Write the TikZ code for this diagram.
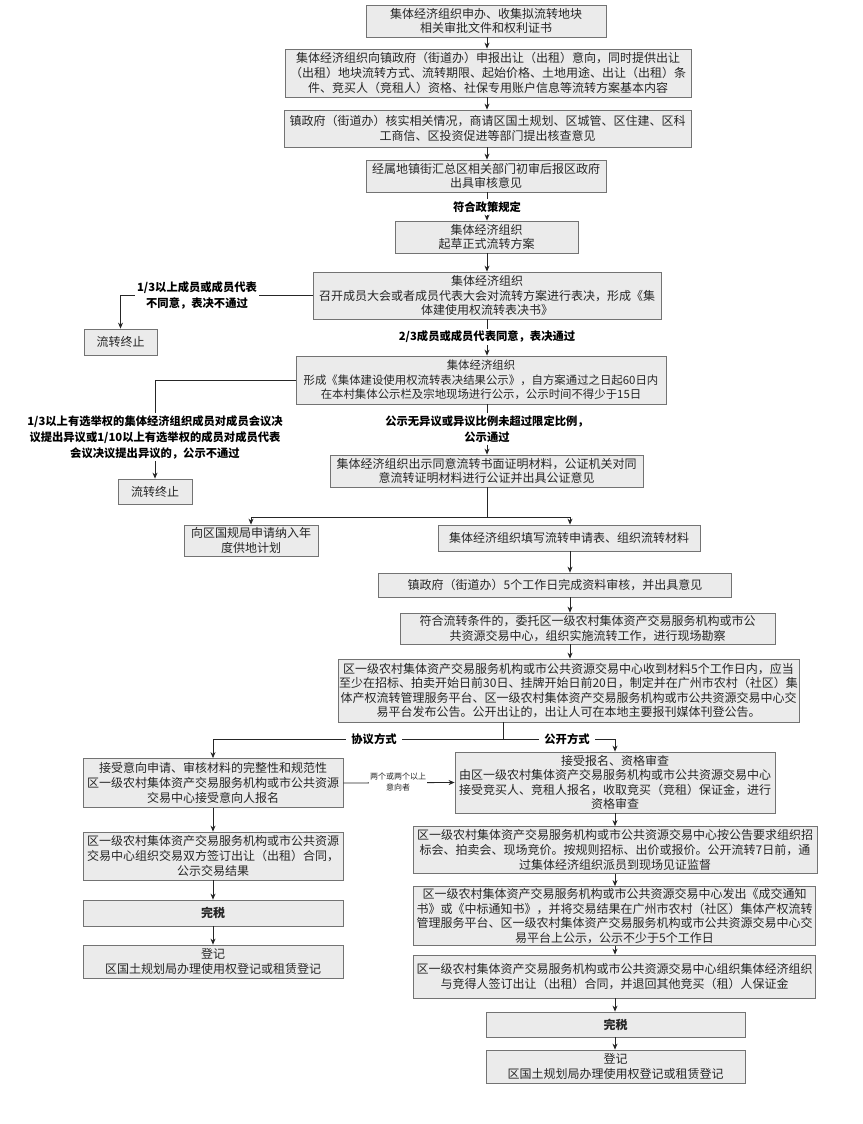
\documentclass[tikz,border=0pt]{standalone}
\usepackage{fontspec}
\setmainfont{Noto Sans CJK SC}
\usetikzlibrary{arrows.meta}
\tikzset{
  box/.style={draw=black!55, line width=0.8pt, fill=black!8, inner sep=0pt, align=center,
    text=black!85, font=\fontsize{12pt}{14.6pt}\selectfont},
  lab/.style={inner sep=2pt, align=center, fill=white, text=black,
    font=\fontsize{11.3pt}{16pt}\selectfont\bfseries},
  small/.style={inner sep=1pt, align=center, fill=white, text=black!85,
    font=\fontsize{8pt}{11pt}\selectfont},
  ln/.style={draw=black!85, line width=0.8pt},
  arr/.style={ln, -{Stealth[length=6pt,width=5pt]}}
}
\begin{document}
\begin{tikzpicture}[x=1pt,y=-1pt]
\fill[white] (0,0) rectangle (862,1124);
\useasboundingbox (0,0) rectangle (862,1124);
\coordinate (cx) at (487,0);
\coordinate (cy) at (570,0);
\coordinate (cl) at (213,0);
\coordinate (cr) at (615,0);

\node[box, minimum width=240pt, minimum height=32pt] (b1) at (486,21) {集体经济组织申办、收集拟流转地块\\相关审批文件和权利证书};
\node[box, minimum width=406pt, minimum height=48pt] (b2) at (488,73) {集体经济组织向镇政府（街道办）申报出让（出租）意向，同时提供出让\\（出租）地块流转方式、流转期限、起始价格、土地用途、出让（出租）条\\件、竞买人（竞租人）资格、社保专用账户信息等流转方案基本内容};
\node[box, minimum width=407pt, minimum height=37pt] (b3) at (487.5,128.5) {镇政府（街道办）核实相关情况，商请区国土规划、区城管、区住建、区科\\工商信、区投资促进等部门提出核查意见};
\node[box, minimum width=240pt, minimum height=32pt] (b4) at (486,176) {经属地镇街汇总区相关部门初审后报区政府\\出具审核意见};
\node[lab] (l1) at (487,207) {符合政策规定};
\node[box, minimum width=183pt, minimum height=32pt] (b5) at (486.5,237) {集体经济组织\\起草正式流转方案};
\node[box, minimum width=348pt, minimum height=47pt] (b6) at (487,295.5) {集体经济组织\\召开成员大会或者成员代表大会对流转方案进行表决，形成《集\\体建使用权流转表决书》};
\node[lab] (l2) at (197,295) {1/3以上成员或成员代表\\不同意，表决不通过};
\node[box, minimum width=73pt, minimum height=26pt] (b7) at (120.5,342) {流转终止};
\node[lab] (l3) at (487,337) {2/3成员或成员代表同意，表决通过};
\node[box, minimum width=370pt, minimum height=48pt, font=\fontsize{11.4pt}{14.6pt}\selectfont] (b8) at (481,380) {集体经济组织\\形成《集体建设使用权流转表决结果公示》，自方案通过之日起60日内\\在本村集体公示栏及宗地现场进行公示，公示时间不得少于15日};
\node[lab] (l4) at (155,437) {1/3以上有选举权的集体经济组织成员对成员会议决\\议提出异议或1/10以上有选举权的成员对成员代表\\会议决议提出异议的，公示不通过};
\node[box, minimum width=74pt, minimum height=25pt] (b9) at (155,491.5) {流转终止};
\node[lab] (l5) at (487,429) {公示无异议或异议比例未超过限定比例，\\公示通过};
\node[box, minimum width=313pt, minimum height=32pt] (b10) at (486.5,471) {集体经济组织出示同意流转书面证明材料，公证机关对同\\意流转证明材料进行公证并出具公证意见};
\node[box, minimum width=134pt, minimum height=31pt] (b11) at (251,540.5) {向区国规局申请纳入年\\度供地计划};
\node[box, minimum width=262pt, minimum height=26pt] (b12) at (569,538) {集体经济组织填写流转申请表、组织流转材料};
\node[box, minimum width=353pt, minimum height=24pt] (b13) at (555,585) {镇政府（街道办）5个工作日完成资料审核，并出具意见};
\node[box, minimum width=375pt, minimum height=31pt] (b14) at (587.5,628.5) {符合流转条件的，委托区一级农村集体资产交易服务机构或市公\\共资源交易中心，组织实施流转工作，进行现场勘察};
\node[box, minimum width=461pt, minimum height=63pt] (b15) at (568.5,690.5) {区一级农村集体资产交易服务机构或市公共资源交易中心收到材料5个工作日内，应当\\至少在招标、拍卖开始日前30日、挂牌开始日前20日，制定并在广州市农村（社区）集\\体产权流转管理服务平台、区一级农村集体资产交易服务机构或市公共资源交易中心交\\易平台发布公告。公开出让的，出让人可在本地主要报刊媒体刊登公告。};
\node[box, minimum width=260pt, minimum height=49pt] (b16) at (213,783) {接受意向申请、审核材料的完整性和规范性\\区一级农村集体资产交易服务机构或市公共资源\\交易中心接受意向人报名};
\node[box, minimum width=320pt, minimum height=61pt] (b17) at (615,782.5) {接受报名、资格审查\\由区一级农村集体资产交易服务机构或市公共资源交易中心\\接受竞买人、竞租人报名，收取竞买（竞租）保证金，进行\\资格审查};
\node[box, minimum width=404pt, minimum height=47pt] (b18) at (615,850) {区一级农村集体资产交易服务机构或市公共资源交易中心按公告要求组织招\\标会、拍卖会、现场竞价。按规则招标、出价或报价。公开流转7日前，通\\过集体经济组织派员到现场见证监督};
\node[box, minimum width=402pt, minimum height=59pt] (b19) at (614.5,916) {区一级农村集体资产交易服务机构或市公共资源交易中心发出《成交通知\\书》或《中标通知书》，并将交易结果在广州市农村（社区）集体产权流转\\管理服务平台、区一级农村集体资产交易服务机构或市公共资源交易中心交\\易平台上公示，公示不少于5个工作日};
\node[box, minimum width=402pt, minimum height=43pt] (b20) at (614.5,976.5) {区一级农村集体资产交易服务机构或市公共资源交易中心组织集体经济组织\\与竞得人签订出让（出租）合同，并退回其他竞买（租）人保证金};
\node[box, minimum width=259pt, minimum height=25pt] (b21) at (615.5,1024.5) {\bfseries 完税};
\node[box, minimum width=259pt, minimum height=33pt] (b22) at (615.5,1066.5) {登记\\区国土规划局办理使用权登记或租赁登记};
\node[box, minimum width=260pt, minimum height=48pt] (b23) at (213,856) {区一级农村集体资产交易服务机构或市公共资源\\交易中心组织交易双方签订出让（出租）合同，\\公示交易结果};
\node[box, minimum width=260pt, minimum height=26pt] (b24) at (213,913) {\bfseries 完税};
\node[box, minimum width=260pt, minimum height=33pt] (b25) at (213,961.5) {登记\\区国土规划局办理使用权登记或租赁登记};

% top column
\draw[arr] (cx |- b1.south) -- (cx |- b2.north);
\draw[arr] (cx |- b2.south) -- (cx |- b3.north);
\draw[arr] (cx |- b3.south) -- (cx |- b4.north);
\draw[ln] (cx |- b4.south) -- (cx |- l1.north);
\draw[arr] (cx |- l1.south) -- (cx |- b5.north);
\draw[arr] (cx |- b5.south) -- (cx |- b6.north);
% reject 1
\draw[ln] (b6.west) -- (l2.east |- b6.west);
\draw[arr] (l2.west |- b6.west) -| (b7.north);
\draw[ln] (cx |- b6.south) -- (cx |- l3.north);
\draw[arr] (cx |- l3.south) -- (cx |- b8.north);
% reject 2
\draw[ln] (b8.west) -| (l4.north);
\draw[arr] (l4.south) -- (b9.north);
\draw[ln] (cx |- b8.south) -- (cx |- l5.north);
\draw[arr] (cx |- l5.south) -- (cx |- b10.north);
% split
\coordinate (j1) at (487,517);
\draw[ln] (cx |- b10.south) -- (j1);
\draw[arr] (j1) -| (b11.north);
\draw[arr] (j1) -| (cy |- b12.north);
\draw[arr] (cy |- b12.south) -- (cy |- b13.north);
\draw[arr] (cy |- b13.south) -- (cy |- b14.north);
\draw[arr] (cy |- b14.south) -- (cy |- b15.north);
% two ways
\coordinate (j2) at (503,739);
\draw[ln] (j2 |- b15.south) -- (j2);
\draw[arr] (j2) -| (cl |- b16.north);
\draw[arr] (j2) -| (cr |- b17.north);
\node[lab] (l6) at (374,739) {\hspace{3pt}协议方式\hspace{3pt}};
\node[lab] (l7) at (567,739) {\hspace{3pt}公开方式\hspace{3pt}};
\draw[arr] (b16.east) -- (b17.west);
\node[small] (l8) at (398,782) {两个或两个以上\\意向者};
% right column
\draw[arr] (cr |- b17.south) -- (cr |- b18.north);
\draw[arr] (cr |- b18.south) -- (cr |- b19.north);
\draw[arr] (cr |- b19.south) -- (cr |- b20.north);
\draw[arr] (cr |- b20.south) -- (cr |- b21.north);
\draw[arr] (cr |- b21.south) -- (cr |- b22.north);
% left column
\draw[arr] (cl |- b16.south) -- (cl |- b23.north);
\draw[arr] (cl |- b23.south) -- (cl |- b24.north);
\draw[arr] (cl |- b24.south) -- (cl |- b25.north);
\end{tikzpicture}
\end{document}
